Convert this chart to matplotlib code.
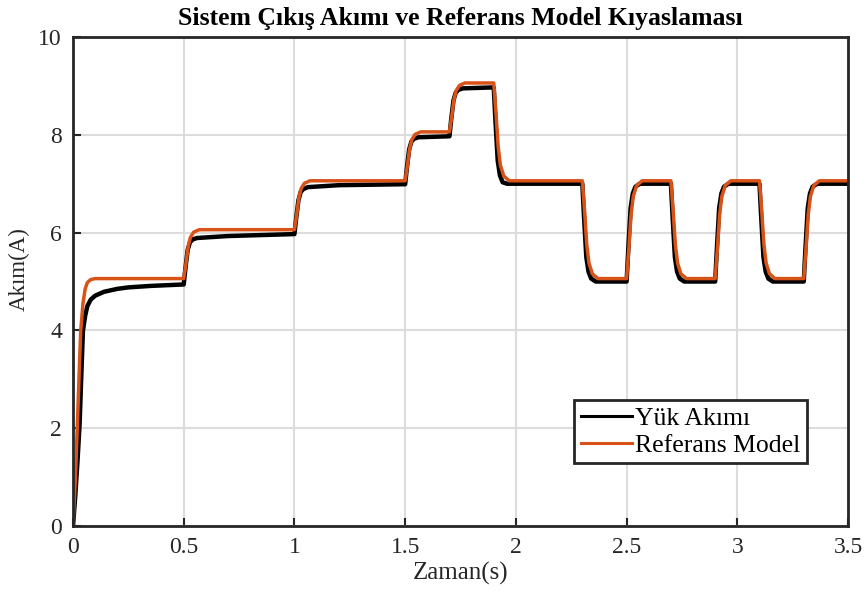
import matplotlib.pyplot as plt

# values
t_load = [0, 0.01, 0.02, 0.03, 0.04, 0.045, 0.055, 0.065, 0.08, 0.1, 0.14, 0.2, 0.25, 0.35, 0.5,
          0.508, 0.518, 0.528, 0.54, 0.56, 0.7, 0.85, 1.0,
          1.008, 1.018, 1.028, 1.04, 1.06, 1.2, 1.5,
          1.508, 1.518, 1.528, 1.54, 1.56, 1.7,
          1.708, 1.718, 1.728, 1.74, 1.76, 1.9,
          1.908, 1.918, 1.928, 1.94, 1.96, 2.3,
          2.308, 2.318, 2.328, 2.34, 2.36, 2.5,
          2.508, 2.518, 2.528, 2.54, 2.56, 2.7,
          2.708, 2.718, 2.728, 2.74, 2.76, 2.9,
          2.908, 2.918, 2.928, 2.94, 2.96, 3.1,
          3.108, 3.118, 3.128, 3.14, 3.16, 3.3,
          3.308, 3.318, 3.328, 3.34, 3.36, 3.5]
i_load = [0, 0.6, 1.3, 2.1, 3.4, 4.0, 4.3, 4.5, 4.63, 4.71, 4.79, 4.85, 4.88, 4.91, 4.94,
          5.28, 5.65, 5.8, 5.86, 5.89, 5.93, 5.95, 5.97,
          6.3, 6.66, 6.83, 6.89, 6.93, 6.97, 6.99,
          7.33, 7.7, 7.86, 7.92, 7.95, 7.97,
          8.32, 8.7, 8.86, 8.92, 8.95, 8.97,
          8.26, 7.47, 7.17, 7.03, 7.0, 7.0,
          6.3, 5.5, 5.2, 5.06, 5.0, 5.0,
          5.7, 6.5, 6.8, 6.94, 7.0, 7.0,
          6.3, 5.5, 5.2, 5.06, 5.0, 5.0,
          5.7, 6.5, 6.8, 6.94, 7.0, 7.0,
          6.3, 5.5, 5.2, 5.06, 5.0, 5.0,
          5.7, 6.5, 6.8, 6.94, 7.0, 7.0]

t_ref = [0, 0.01, 0.02, 0.03, 0.035, 0.045, 0.055, 0.065, 0.08, 0.1, 0.5,
         0.51, 0.52, 0.53, 0.545, 0.57, 1.0,
         1.01, 1.02, 1.03, 1.045, 1.07, 1.5,
         1.51, 1.52, 1.53, 1.545, 1.57, 1.7,
         1.71, 1.72, 1.73, 1.745, 1.77, 1.9,
         1.91, 1.92, 1.93, 1.945, 1.97, 2.3,
         2.31, 2.32, 2.33, 2.345, 2.37, 2.5,
         2.51, 2.52, 2.53, 2.545, 2.57, 2.7,
         2.71, 2.72, 2.73, 2.745, 2.77, 2.9,
         2.91, 2.92, 2.93, 2.945, 2.97, 3.1,
         3.11, 3.12, 3.13, 3.145, 3.17, 3.3,
         3.31, 3.32, 3.33, 3.345, 3.37, 3.5]
i_ref = [0, 0.9, 2.1, 3.4, 4.0, 4.55, 4.85, 4.98, 5.04, 5.06, 5.06,
         5.36, 5.71, 5.9, 6.01, 6.06, 6.06,
         6.36, 6.71, 6.9, 7.01, 7.06, 7.06,
         7.36, 7.71, 7.9, 8.01, 8.06, 8.06,
         8.36, 8.71, 8.9, 9.01, 9.06, 9.06,
         8.46, 7.76, 7.38, 7.16, 7.06, 7.06,
         6.46, 5.76, 5.38, 5.16, 5.06, 5.06,
         5.66, 6.36, 6.74, 6.96, 7.06, 7.06,
         6.46, 5.76, 5.38, 5.16, 5.06, 5.06,
         5.66, 6.36, 6.74, 6.96, 7.06, 7.06,
         6.46, 5.76, 5.38, 5.16, 5.06, 5.06,
         5.66, 6.36, 6.74, 6.96, 7.06, 7.06]

x_ticks = [0, 0.5, 1, 1.5, 2, 2.5, 3, 3.5]
x_tick_labels = ['0', '0.5', '1', '1.5', '2', '2.5', '3', '3.5']
y_ticks = [0, 2, 4, 6, 8, 10]

plt.rcParams['font.family'] = ['Liberation Serif', 'DejaVu Serif']

fig = plt.figure(figsize=(8.68, 6), dpi=100)
ax = fig.add_axes([0.0841, 0.1233, 0.8929, 0.815])

ax.plot(t_load, i_load, color='black', linewidth=3.2, label='Yük Akımı')
ax.plot(t_ref, i_ref, color='#D95319', linewidth=2.5, label='Referans Model')

ax.set_xlim(0, 3.5)
ax.set_ylim(0, 10)
ax.set_xticks(x_ticks)
ax.set_xticklabels(x_tick_labels)
ax.set_yticks(y_ticks)
ax.tick_params(direction='in', length=6, width=1.5, labelsize=17, colors='#262626', pad=8)
ax.grid(True, color='#dcdcdc', linewidth=1.5)
ax.set_axisbelow(True)
for sp in ax.spines.values():
    sp.set_linewidth(2)
    sp.set_color('#262626')

ax.set_xlabel('Zaman(s)', fontsize=18, color='#262626', labelpad=3)
ax.set_ylabel('Akım(A)', fontsize=16.5, color='#262626')
ax.yaxis.set_label_coords(-0.056, 0.526)
ax.set_title('Sistem Çıkış Akımı ve Referans Model Kıyaslaması', fontsize=18.5, fontweight='bold', pad=8.5)

leg = ax.legend(loc='lower right', bbox_to_anchor=(0.947, 0.129), fontsize=18.5, fancybox=False,
                edgecolor='#262626', framealpha=1, borderpad=0.25, labelspacing=0.15,
                handlelength=2.0, handletextpad=0.12, borderaxespad=0)
leg.get_frame().set_linewidth(2)
for ln in leg.get_lines():
    ln.set_linewidth(2.2)

plt.savefig('out.png', dpi=100)
